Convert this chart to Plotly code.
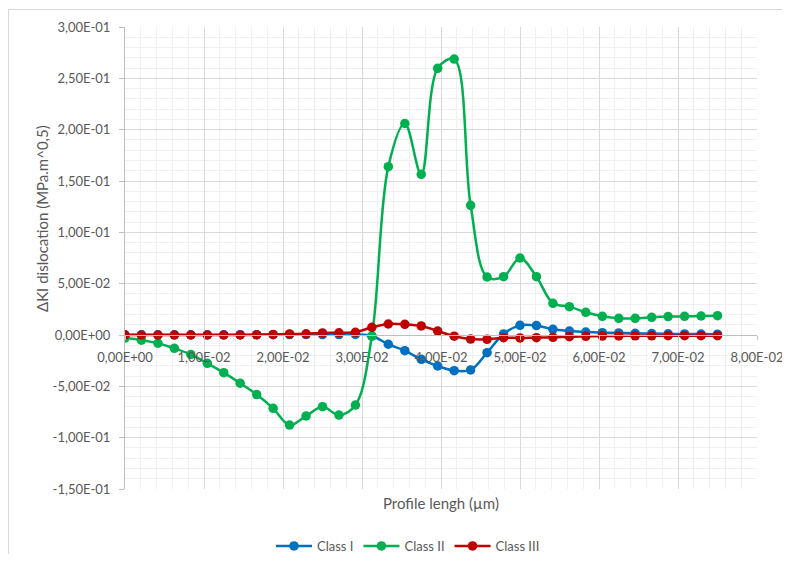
import plotly.graph_objects as go

# ---------------- data ----------------
x_vals = [0.0, 0.00208, 0.00417, 0.00625, 0.00833, 0.01042, 0.0125, 0.01458, 0.01667,
          0.01875, 0.02083, 0.02292, 0.025, 0.02708, 0.02917, 0.03125, 0.03333, 0.03542,
          0.0375, 0.03958, 0.04167, 0.04375, 0.04583, 0.04792, 0.05, 0.05208, 0.05417,
          0.05625, 0.05833, 0.06042, 0.0625, 0.06458, 0.06667, 0.06875, 0.07083, 0.07292,
          0.075]

class_1 = [0.0002, 0.0002, 0.0002, 0.0002, 0.0002, 0.0002, 0.0002, 0.0003, 0.0003,
           0.0003, 0.0004, 0.0004, 0.0004, 0.0004, 0.0005, -0.001, -0.009, -0.0153,
           -0.0237, -0.0302, -0.0347, -0.034, -0.0172, 0.001, 0.0094, 0.0092, 0.0055,
           0.0039, 0.0029, 0.0023, 0.002, 0.0017, 0.0014, 0.0012, 0.001, 0.0009, 0.0008]

class_2 = [-0.003, -0.005, -0.008, -0.013, -0.019, -0.0276, -0.0367, -0.047, -0.058,
           -0.0714, -0.0877, -0.0789, -0.0698, -0.078, -0.0682, -0.001, 0.164, 0.206,
           0.1565, 0.2597, 0.2688, 0.1263, 0.0565, 0.0568, 0.075, 0.0568, 0.0309,
           0.0276, 0.0221, 0.0182, 0.0162, 0.0162, 0.0172, 0.0179, 0.0182, 0.0185, 0.0188]

class_3 = [0.0, 0.0, 0.0, 0.0, 0.0, 0.0, 0.0, 0.0, 0.0002, 0.0005, 0.001, 0.0012, 0.002,
           0.0022, 0.0026, 0.0075, 0.0107, 0.0104, 0.0088, 0.0039, -0.0012, -0.004,
           -0.0042, -0.0026, -0.0029, -0.0026, -0.0023, -0.0016, -0.0013, -0.001,
           -0.0009, -0.0008, -0.0008, -0.0007, -0.0007, -0.0007, -0.0007]

series_names = ["Class I", "Class II", "Class III"]
series_colors = ["#0070C0", "#00B050", "#C00000"]

x_tickvals = [0.0, 0.01, 0.02, 0.03, 0.04, 0.05, 0.06, 0.07, 0.08]
x_ticktext = ["0,00E+00", "1,00E-02", "2,00E-02", "3,00E-02", "4,00E-02",
              "5,00E-02", "6,00E-02", "7,00E-02", "8,00E-02"]
y_tickvals = [-0.15, -0.10, -0.05, 0.0, 0.05, 0.10, 0.15, 0.20, 0.25, 0.30]
y_ticktext = ["-1,50E-01", "-1,00E-01", "-5,00E-02", "0,00E+00", "5,00E-02",
              "1,00E-01", "1,50E-01", "2,00E-01", "2,50E-01", "3,00E-01"]

x_title = "Profile lengh (µm)"
y_title = "ΔKI dislocation (MPa.m^0,5)"

# ---------------- figure ----------------
OFF = 8                      # page body margin offset
W, H = 790 - OFF, 562 - 2 * OFF
L, R, T, B = 125 - OFF, 757 - OFF, 27 - OFF, 489 - OFF   # plot area in figure pixels
pw, ph = R - L, B - T


def px_x(p):                 # page pixel -> paper x
    return (p - OFF - L) / pw


def px_y(p):                 # page pixel -> paper y
    return (B - (p - OFF)) / ph


FONT = "Lato, 'Open Sans', sans-serif"
TXT = "#595959"
MAJOR = "#D9D9D9"
MINOR = "#F0F0F0"

fig = go.Figure()
for name, col, ys in zip(series_names, series_colors, [class_1, class_2, class_3]):
    fig.add_trace(go.Scatter(
        x=x_vals, y=ys, name=name, mode="lines+markers",
        line=dict(color=col, width=2.5, shape="spline", smoothing=1.0),
        marker=dict(color=col, size=9.5, symbol="circle"),
    ))

xr = [0, 0.08]
yr = [-0.15, 0.30]

fig.update_layout(
    width=W, height=H,
    margin=dict(l=L, r=W - R, t=T, b=H - B, autoexpand=False),
    paper_bgcolor="white", plot_bgcolor="white",
    font=dict(family=FONT, color=TXT, size=13),
    showlegend=True,
    legend=dict(orientation="h", x=px_x(408), y=px_y(546), xanchor="center",
                yanchor="middle", font=dict(size=13, color=TXT),
                itemwidth=36, tracegroupgap=0, bgcolor="rgba(0,0,0,0)"),
    xaxis=dict(range=xr, showticklabels=False, showline=False, zeroline=False,
               tickvals=x_tickvals, showgrid=True, gridcolor=MAJOR, gridwidth=1,
               minor=dict(dtick=0.002, tick0=0, showgrid=True, gridcolor=MINOR,
                          gridwidth=1),
               fixedrange=True),
    xaxis2=dict(range=xr, overlaying="x", anchor="free", position=px_y(335),
                side="bottom", tickvals=x_tickvals, ticktext=x_ticktext,
                showgrid=False, zeroline=False, showline=True, linecolor="#BFBFBF",
                linewidth=1, ticks="outside", ticklen=4, tickcolor="#BFBFBF",
                ticklabelstandoff=6,
                tickfont=dict(size=13, color=TXT, family=FONT)),
    yaxis=dict(range=yr, tickvals=y_tickvals, ticktext=y_ticktext,
               showgrid=True, gridcolor=MAJOR, gridwidth=1, zeroline=False,
               showline=True, linecolor="#BFBFBF", linewidth=1,
               ticks="outside", ticklen=5, tickcolor="#BFBFBF",
               ticklabelstandoff=6,
               tickfont=dict(size=13, color=TXT, family=FONT),
               minor=dict(dtick=0.01, tick0=0, showgrid=True, gridcolor=MINOR,
                          gridwidth=1),
               fixedrange=True),
)

# invisible helper trace so the zero-crossing x axis is active
fig.add_trace(go.Scatter(x=[0], y=[0], xaxis="x2", yaxis="y", mode="markers",
                         marker=dict(opacity=0), showlegend=False, hoverinfo="skip"))

# axis titles
fig.add_annotation(text=x_title, xref="paper", yref="paper", x=px_x(441), y=px_y(503),
                   xanchor="center", yanchor="middle", showarrow=False,
                   font=dict(size=15, color=TXT, family=FONT))
fig.add_annotation(text=y_title, xref="paper", yref="paper", x=px_x(42), y=px_y(219),
                   xanchor="center", yanchor="middle", textangle=-90, showarrow=False,
                   font=dict(size=15, color=TXT, family=FONT))

# chart-area border
fig.add_shape(type="rect", xref="paper", yref="paper",
              x0=px_x(8.5), x1=px_x(800), y0=px_y(575), y1=px_y(9.5),
              line=dict(color="#D9D9D9", width=1), fillcolor="rgba(0,0,0,0)", layer="below")

fig.write_html("out.html")
